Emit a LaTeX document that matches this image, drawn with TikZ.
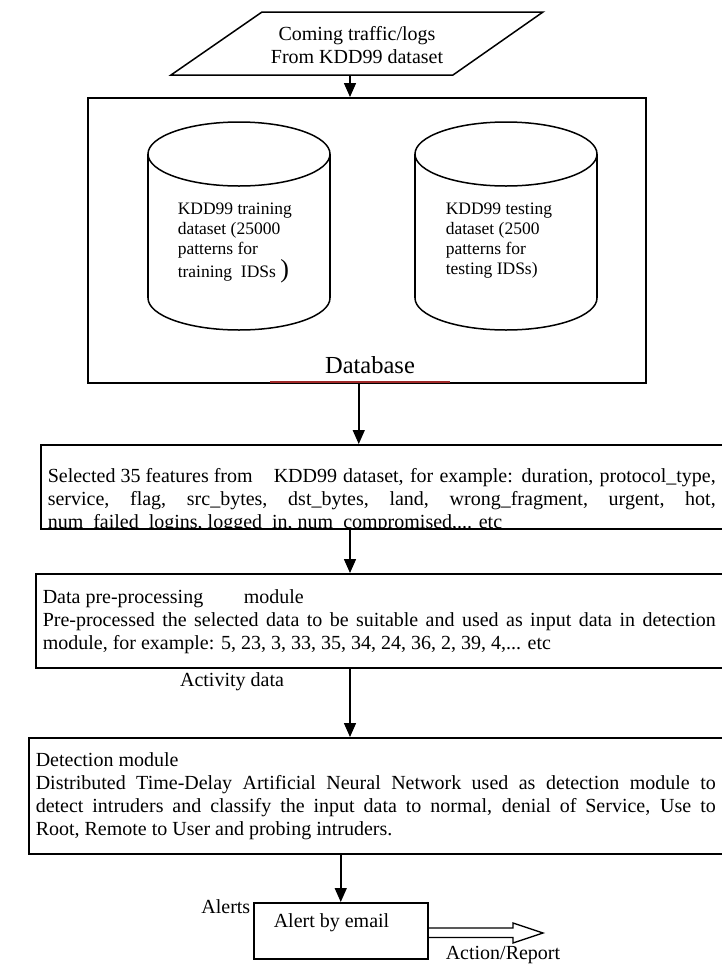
\documentclass[tikz,border=0pt]{standalone}
\usepackage{fontspec}
\setmainfont{Liberation Serif}
\usetikzlibrary{arrows.meta,calc}
\definecolor{dbred}{RGB}{160,40,40}
\begin{document}
\begin{tikzpicture}[x=1pt,y=-1pt,line width=1.5pt,
  box/.style={draw, line width=1.5pt, inner sep=0pt, anchor=north west},
  arr/.style={draw, line width=1.5pt, -{Triangle[width=12pt,length=14pt]}},
  txt/.style={font=\fontsize{20}{23}\selectfont, inner sep=0pt},
  ctxt/.style={font=\fontsize{17.5}{20}\selectfont, inner sep=0pt, align=left, anchor=north west},
]
\useasboundingbox (0,0) rectangle (722,967);

% input parallelogram
\coordinate (p1) at (171,75);
\coordinate (p2) at (262,12);
\coordinate (p3) at (543,12);
\coordinate (p4) at (453,75);
\draw (p1) -- (p2) -- (p3) -- (p4) -- cycle;
\node[txt, align=center] (in) at (357,45) {Coming traffic/logs\\From KDD99 dataset};
\coordinate (inB) at (350,75);

% database
\node[box, minimum width=558pt, minimum height=285pt] (db) at (87,97) {};
\draw[arr] (inB) -- (inB |- db.north);

% cylinder 1
\draw (148,154) -- (148,298);
\draw (330,154) -- (330,298);
\draw (239,154) ellipse [x radius=91pt, y radius=32pt];
\draw (148,298) arc [start angle=180, end angle=360, x radius=91pt, y radius=32pt];
\node[ctxt] (c1) at (177,202) {KDD99 training\\dataset (25000\\patterns for\\training\ \ IDSs {\fontsize{26}{20}\selectfont)}};

% cylinder 2
\draw (415,154) -- (415,298);
\draw (597,154) -- (597,298);
\draw (506,154) ellipse [x radius=91pt, y radius=32pt];
\draw (415,298) arc [start angle=180, end angle=360, x radius=91pt, y radius=32pt];
\node[ctxt] (c2) at (445,202) {KDD99 testing\\dataset (2500\\patterns for\\testing IDSs)};

\node[font=\fontsize{24.5}{28}\selectfont, inner sep=0pt] (dbl) at (370,365) {Database};
\draw[dbred] (270,382) -- (450,382);

% box 2
\node[box, minimum width=684pt, minimum height=84pt] (b2) at (40,444) {};
\draw[arr] ([xshift=-8pt]db.south) -- ([xshift=-8pt]db.south |- b2.north);
\begin{scope}
\clip (40,444) rectangle (722,527.2);
\node[txt, anchor=north west, align=left] (t2) at (47,468) {%
\makebox[668pt][s]{\makebox[226pt][l]{Selected 35 features from}KDD99 dataset, for example: duration, protocol\_type,}\\
\makebox[668pt][s]{service, flag, src\_bytes, dst\_bytes, land, wrong\_fragment, urgent, hot,}\\
num\_failed\_logins, logged\_in, num\_compromised,... etc};
\end{scope}

% box 3
\node[box, minimum width=689pt, minimum height=94pt] (b3) at (35,573) {};
\draw[arr] (b2.south -| inB) -- (b3.north -| inB);
\node[txt, anchor=north west, align=left] (t3) at (42,589) {%
\makebox[201pt][l]{Data pre-processing}module\\
\makebox[673pt][s]{Pre-processed the selected data to be suitable and used as input data in detection}\\
module, for example: 5, 23, 3, 33, 35, 34, 24, 36, 2, 39, 4,... etc};
\node[txt] (act) at (232,682) {Activity data};

% box 4
\node[box, minimum width=696pt, minimum height=116pt] (b4) at (28,737) {};
\draw[arr] (b3.south -| inB) -- (b4.north -| inB);
\node[txt, anchor=north west, align=left] (t4) at (35,752) {%
Detection module\\
\makebox[680pt][s]{Distributed Time-Delay Artificial Neural Network used as detection module to}\\
\makebox[680pt][s]{detect intruders and classify the input data to normal, denial of Service, Use to}\\
Root, Remote to User and probing intruders.};

% alert
\node[box, minimum width=174pt, minimum height=56pt] (al) at (253,902) {};
\draw[arr] (al.north |- b4.south) -- (al.north);
\node[txt, anchor=west] (alt) at (273,923) {Alert by email};
\node[txt, anchor=east] (alerts) at (251,907) {Alerts};
\coordinate (ar) at (543,933);
\draw[line width=1.3pt, line join=miter] ($(al.north east)+(0,26)$) -- (513,928) -- (513,923) -- (ar) -- (513,943) -- (513,937.5) -- ($(al.north east)+(0,35.5)$);
\node[txt, anchor=west] (act2) at (445,955) {Action/Report};
\end{tikzpicture}
\end{document}
